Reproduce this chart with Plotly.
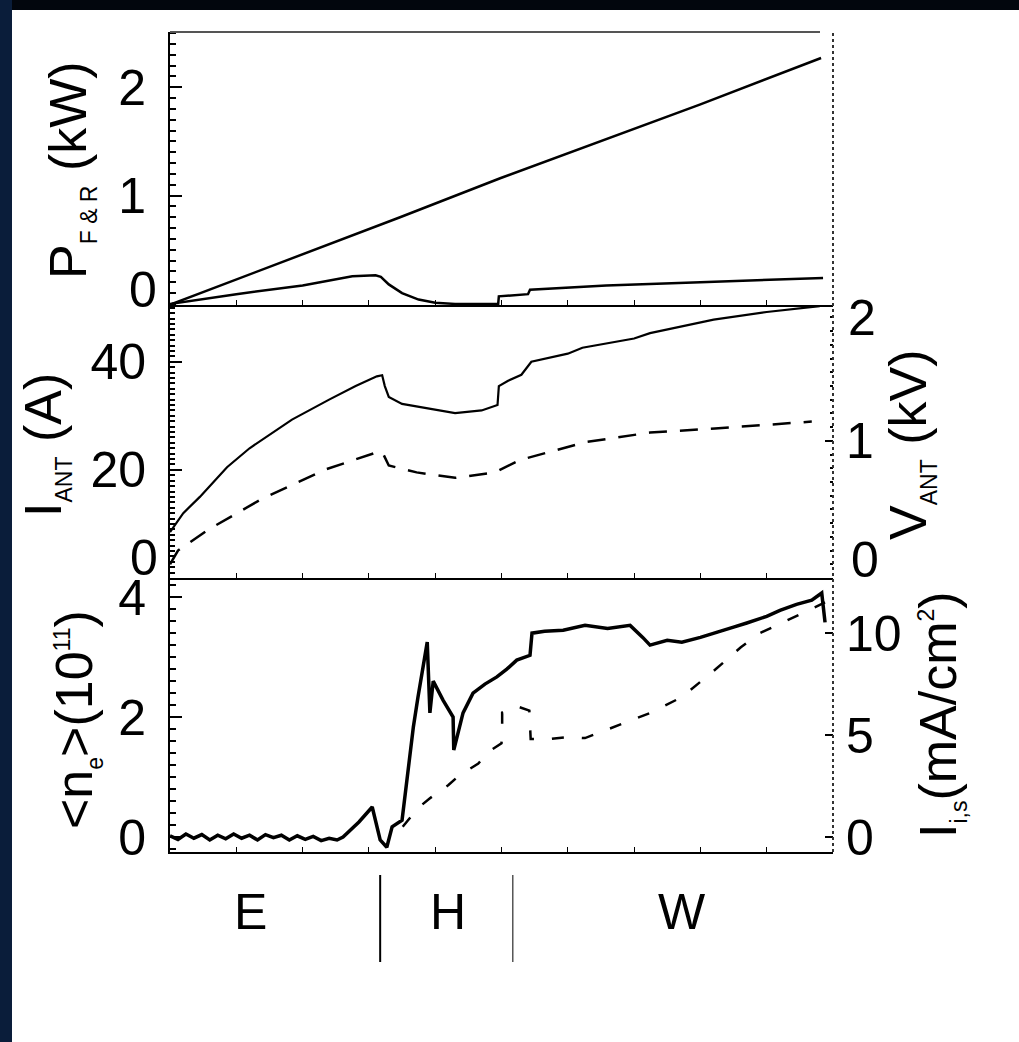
import plotly.graph_objects as go

# ---------------- data (x in % of sweep, 0..100) ----------------
pf_x = [0.3, 19.6, 34.7, 49.8, 64.9, 79.9, 98.2]
pf_y = [0.0, 0.45, 0.80, 1.16, 1.50, 1.84, 2.27]

pr_x = [0.0, 10.0, 20.0, 27.5, 31.0, 31.8, 33.0, 35.0, 37.5, 40.0, 43.0, 49.5, 49.6, 54.0, 54.3, 60.0, 65.8, 80.0, 90.0, 98.5]
pr_y = [0.0, 0.09, 0.17, 0.255, 0.265, 0.25, 0.18, 0.10, 0.04, 0.01, 0.0, 0.0, 0.07, 0.09, 0.13, 0.15, 0.17, 0.20, 0.22, 0.24]

iant_x = [0.0, 2.0, 4.5, 8.6, 12.0, 18.4, 24.0, 28.0, 31.2, 32.0, 32.4, 33.0, 35.0, 40.0, 43.0, 47.0, 49.4, 49.6, 51.0, 53.0, 54.5, 60.0, 62.2, 70.0, 72.4, 82.0, 90.0, 98.0]
iant_y = [8.5, 12.0, 15.0, 20.5, 24.0, 29.3, 33.0, 35.5, 37.3, 37.5, 35.5, 33.5, 32.2, 31.2, 30.5, 31.0, 32.0, 35.5, 36.5, 37.6, 40.0, 41.5, 42.6, 44.3, 45.3, 47.8, 49.2, 50.3]

vant_x = [0.0, 1.2, 5.7, 13.6, 23.4, 30.8, 32.0, 33.0, 37.2, 43.0, 49.0, 52.8, 62.6, 72.4, 82.2, 96.8]
vant_y = [0.10, 0.20, 0.35, 0.57, 0.79, 0.91, 0.92, 0.82, 0.77, 0.73, 0.77, 0.86, 0.99, 1.06, 1.09, 1.14]

ne_x = [0.0, 1.2, 2.4, 3.6, 4.8, 6.0, 7.2, 8.4, 9.6, 10.8, 12.0, 13.2, 14.4, 15.6, 16.8, 18.0, 19.2, 20.4, 21.6, 22.8, 24.0, 25.2, 26.1,
        28.5, 30.5, 31.7, 32.7, 33.5, 35.0, 35.7, 36.7, 37.4, 38.8, 39.2, 39.7, 41.2, 42.7, 42.8, 44.2, 45.7, 47.5, 49.3, 50.8,
        52.3, 54.3, 54.6, 56.5, 59.3, 61.8, 62.6, 66.0, 69.4, 71.3, 72.4, 75.0, 77.2, 80.0, 82.2, 85.0, 87.0, 90.0, 92.0, 94.5, 96.8, 98.3, 98.8]
ne_y = [0.02, -0.04, 0.05, -0.02, 0.04, -0.05, 0.03, -0.03, 0.05, -0.02, 0.03, -0.05, 0.04, -0.01, 0.03, -0.05, 0.02, -0.04, 0.01, -0.06, -0.02, -0.05, 0.0,
        0.25, 0.50, -0.05, -0.17, 0.17, 0.28, 0.95, 1.83, 2.33, 3.25, 2.07, 2.60, 2.28, 2.00, 1.45, 2.07, 2.40, 2.55, 2.67, 2.80,
        2.95, 3.03, 3.40, 3.43, 3.45, 3.50, 3.53, 3.48, 3.53, 3.33, 3.20, 3.28, 3.25, 3.33, 3.40, 3.50, 3.57, 3.68, 3.78, 3.88, 3.95, 4.07, 3.58]

iis_x = [35.1, 37.4, 39.2, 42.0, 43.7, 46.5, 48.0, 50.0, 50.1, 50.1, 52.4, 54.2, 54.4, 57.0, 60.0, 62.6, 72.4, 77.2, 82.2, 86.1, 89.0, 98.8]
iis_y = [0.5, 1.42, 1.9, 2.55, 3.04, 3.6, 4.17, 4.6, 5.0, 6.1, 6.4, 6.2, 4.8, 4.8, 4.9, 4.85, 6.08, 6.86, 8.2, 9.3, 10.0, 11.5]

regions = ["E", "H", "W"]
region_x = [250, 448, 682]          # pixel centres of the region labels
boundary_x = [31.7, 51.7]           # region boundaries in sweep units

FONT = "Liberation Sans, Arial, sans-serif"
W, H = 1019, 1042
L, R, T, B = 170, 186, 32, 190


def px(x):
    return (x - L) / (W - L - R)


def py(y):
    return (H - B - y) / (H - T - B)


fig = go.Figure()
blk = dict(color="black", width=2.5)
fig.add_trace(go.Scatter(x=pf_x, y=pf_y, mode="lines", line=blk, xaxis="x3", yaxis="y"))
fig.add_trace(go.Scatter(x=pr_x, y=pr_y, mode="lines", line=blk, xaxis="x3", yaxis="y"))
fig.add_trace(go.Scatter(x=iant_x, y=iant_y, mode="lines", line=dict(color="black", width=2.2), xaxis="x2", yaxis="y3"))
fig.add_trace(go.Scatter(x=vant_x, y=vant_y, mode="lines", line=dict(color="black", width=2.5, dash="18px,13px"), xaxis="x2", yaxis="y4"))
fig.add_trace(go.Scatter(x=ne_x, y=ne_y, mode="lines", line=dict(color="black", width=3.5), xaxis="x", yaxis="y5"))
fig.add_trace(go.Scatter(x=iis_x, y=iis_y, mode="lines", line=dict(color="black", width=2.5, dash="12px,18px"), xaxis="x", yaxis="y6"))

d_bot = [0, py(578)]
d_mid = [py(578), py(305)]
d_top = [py(305), 1]

tickfont = dict(family=FONT, size=50, color="black")
xcommon = dict(range=[0, 100], showticklabels=False, showgrid=False, zeroline=False,
               showline=True, linecolor="black", linewidth=2, ticks="inside", ticklen=5,
               dtick=10, tickcolor="black", domain=[0, 1])
ycommon = dict(showgrid=False, zeroline=False, showline=True, linecolor="black", linewidth=2,
               ticks="inside", tickcolor="black", ticklen=12, tickwidth=2, tickfont=tickfont,
               ticklabelstandoff=12)

fig.update_layout(
    width=W, height=H,
    margin=dict(l=L, r=R, t=T, b=B),
    paper_bgcolor="#02060d", plot_bgcolor="white",
    showlegend=False,
    xaxis=dict(xcommon, anchor="y5"),
    xaxis2=dict(xcommon, anchor="y3"),
    xaxis3=dict(xcommon, anchor="y"),
    yaxis=dict(ycommon, domain=d_top, range=[-0.01, 2.51], tickvals=[1, 2], ticktext=["1", "2"],
               minor=dict(dtick=0.1, ticks="inside", ticklen=6, tickcolor="black"), anchor="x3"),
    yaxis3=dict(ycommon, domain=d_mid, range=[0, 50.5], tickvals=[20, 40], ticktext=["20", "40"],
                minor=dict(dtick=1, ticks="inside", ticklen=5, tickcolor="black"), anchor="x2"),
    yaxis4=dict(ycommon, overlaying="y3", side="right", range=[0, 1.99], tickvals=[1], ticktext=["1"],
                showline=False, ticklen=8, anchor="x2",
                minor=dict(dtick=0.1, ticks="inside", ticklen=3, tickcolor="black")),
    yaxis5=dict(ycommon, domain=d_bot, range=[-0.25, 4.32], tickvals=[0, 2, 4], ticktext=["0", "2", "4"],
                minor=dict(dtick=0.2, ticks="inside", ticklen=6, tickcolor="black"), anchor="x"),
    yaxis6=dict(ycommon, overlaying="y5", side="right", range=[-0.735, 12.7], tickvals=[0, 5, 10],
                ticktext=["0", "5", "10"], showline=False, ticklen=8, anchor="x"),
)

shapes = []
# white sheet on dark background
shapes.append(dict(type="rect", xref="paper", yref="paper", x0=px(0), x1=px(12), y0=py(0), y1=py(H),
                   fillcolor="#0a1d3a", line_width=0, layer="below"))
shapes.append(dict(type="rect", xref="paper", yref="paper", x0=px(12), x1=px(W + 5), y0=py(10), y1=py(H + 5),
                   fillcolor="white", line_width=0, layer="below"))
# top border (grey) and dotted right borders
shapes.append(dict(type="line", xref="paper", yref="paper", x0=0, x1=px(820), y0=1, y1=1,
                   line=dict(color="#555555", width=2)))
shapes.append(dict(type="line", xref="paper", yref="paper", x0=1, x1=1, y0=0, y1=1,
                   line=dict(color="#333333", width=2, dash="dot")))
# region boundaries
for i, bx in enumerate(boundary_x):
    shapes.append(dict(type="line", xref="x", yref="paper", x0=bx, x1=bx, y0=py(875), y1=py(962),
                       line=dict(color="black" if i == 0 else "#555555", width=2 if i == 0 else 1.5)))
fig.update_layout(shapes=shapes)

ann = []
cm = dict(xanchor="center", yanchor="middle", showarrow=False, xref="paper", yref="paper")
for lab, xc in zip(regions, region_x):
    ann.append(dict(cm, text=lab, x=px(xc), y=py(912), font=dict(family=FONT, size=50, color="black")))
# shifted zero/edge tick labels
for txt, xc, yc in [("0", 143, 290), ("0", 144, 558), ("2", 862, 318), ("0", 865, 560)]:
    ann.append(dict(cm, text=txt, x=px(xc), y=py(yc), font=tickfont))
sub = '<span style="font-size:23px">'
titles = [
    ("P<sub>" + sub + "F &amp; R</span></sub> (kW)", 70, 170),
    ("I<sub>" + sub + "ANT</span></sub> (A)", 45, 445),
    ("&lt;n<sub>" + sub + "e</span></sub>&gt;(10<sup>" + sub + "11</span></sup>)", 76, 720),
    ("V<sub>" + sub + "ANT</span></sub> (kV)", 910, 445),
    ("I<sub>" + sub + "i,s</span></sub>(mA/cm<sup>" + sub + "2</span></sup>)", 940, 715),
]
for txt, xc, yc in titles:
    ann.append(dict(cm, text=txt, x=px(xc), y=py(yc), textangle=-90,
                    font=dict(family=FONT, size=52, color="black")))
fig.update_layout(annotations=ann)

fig.write_html("out.html")
